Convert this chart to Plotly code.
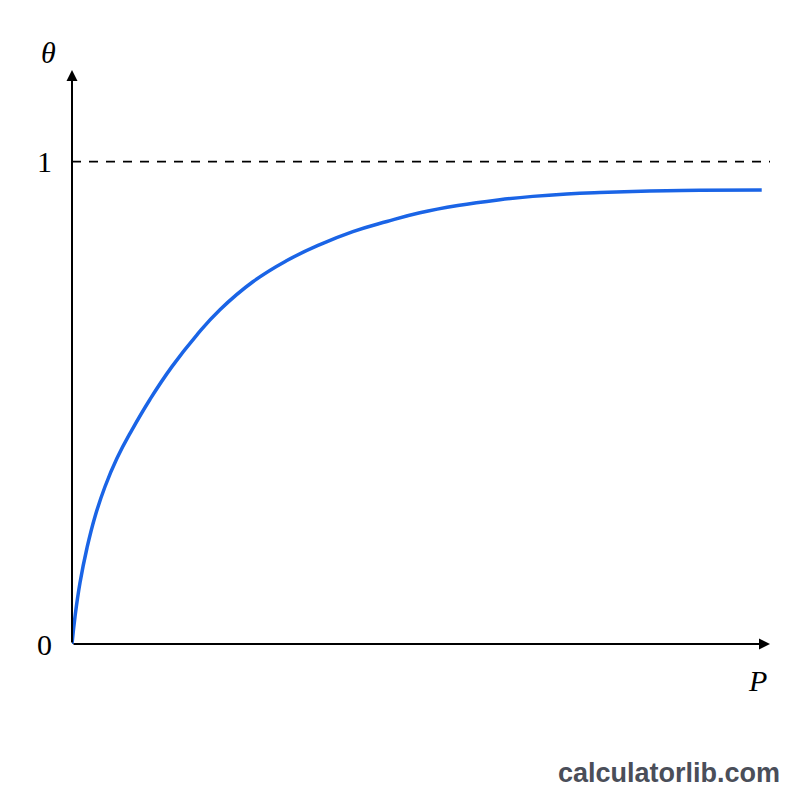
import plotly.graph_objects as go

# values (P in arbitrary units, theta as fraction of coverage)
pressure = [0, 0.043, 0.116, 0.217, 0.333, 0.478, 0.652, 0.870, 1.130, 1.449, 1.812,
            2.145, 2.623, 3.116, 3.594, 4.072, 4.565, 5.043, 5.594, 6.203, 6.681,
            7.174, 7.652, 8.130, 8.623, 9.101, 10.0]
theta = [0, 0.056, 0.127, 0.199, 0.264, 0.326, 0.385, 0.444, 0.507, 0.575, 0.641,
         0.693, 0.751, 0.795, 0.828, 0.855, 0.876, 0.894, 0.909, 0.921, 0.928,
         0.933, 0.9361, 0.9382, 0.9396, 0.9405, 0.9413]
tick_vals = [0, 1]
tick_text = ['0', '1']

x_max = 10.12
y_max = 1.19
serif = 'Liberation Serif, DejaVu Serif, serif'

fig = go.Figure()

# saturation line at theta = 1
fig.add_scatter(x=[0, x_max], y=[1, 1], mode='lines',
                line=dict(color='black', width=1.8, dash='9px,8px'), hoverinfo='skip')

fig.add_scatter(x=pressure, y=theta, mode='lines',
                line=dict(color='#1a64e6', width=3.5, shape='spline', smoothing=1.3))

# axes with arrow heads
for tip, tail in [((x_max, 0), (0, 0)), ((0, y_max), (0, 0))]:
    fig.add_annotation(x=tip[0], y=tip[1], ax=tail[0], ay=tail[1],
                       xref='x', yref='y', axref='x', ayref='y',
                       showarrow=True, arrowhead=2, arrowsize=1.1, arrowwidth=2,
                       arrowcolor='black', text='')

fig.add_annotation(x=0, y=y_max, xref='x', yref='y', text='<i>θ</i>', showarrow=False,
                   xshift=-24, yshift=18, font=dict(family=serif, size=30, color='black'))
fig.add_annotation(x=x_max, y=0, xref='x', yref='y', text='<i>P</i>', showarrow=False,
                   xshift=-13, yshift=-36, font=dict(family=serif, size=30, color='black'))
fig.add_annotation(x=1, y=0, xref='paper', yref='paper', text='<b>calculatorlib.com</b>',
                   showarrow=False, xanchor='right', yanchor='middle', xshift=12, yshift=-129,
                   font=dict(family='Liberation Sans, Arial, sans-serif', size=27, color='#4a4e59'))

fig.update_layout(
    width=800, height=800,
    margin=dict(l=64, r=38, t=62, b=164),
    plot_bgcolor='white', paper_bgcolor='white',
    showlegend=False,
    xaxis=dict(range=[0, x_max], showgrid=False, zeroline=False, showline=False,
               showticklabels=False, ticks=''),
    yaxis=dict(range=[0, y_max], showgrid=False, zeroline=False, showline=False,
               tickvals=tick_vals, ticktext=tick_text, ticks='', ticklabelstandoff=19,
               tickfont=dict(family=serif, size=30, color='black')),
)

fig.write_html("out.html")
